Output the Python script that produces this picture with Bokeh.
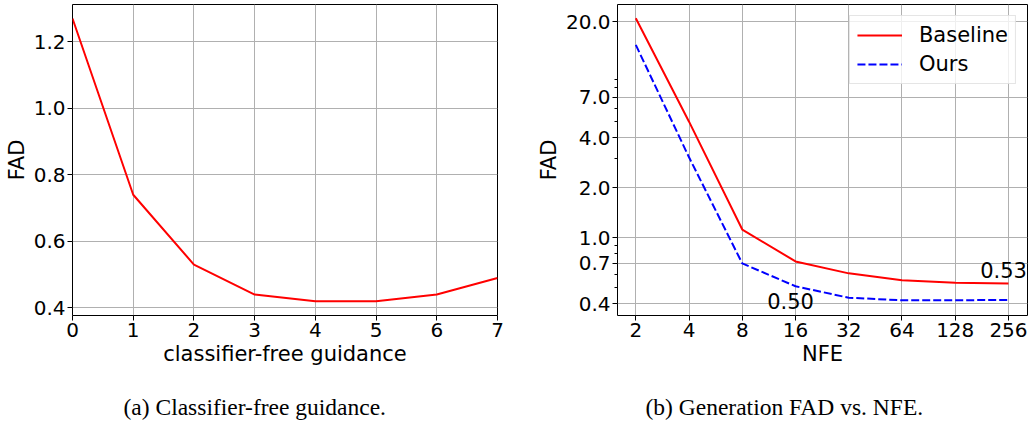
from bokeh.plotting import figure
from bokeh.layouts import row
from bokeh.models import (FixedTicker, PrintfTickFormatter, Range1d, Label, Title)
from bokeh.embed import file_html
from bokeh.resources import INLINE

# ---- data: (a) classifier-free guidance ----
cfg_scale = [0, 1, 2, 3, 4, 5, 6, 7]
cfg_fad = [1.27, 0.74, 0.53, 0.44, 0.42, 0.42, 0.44, 0.49]
cfg_yticks = [0.4, 0.6, 0.8, 1.0, 1.2]

# ---- data: (b) FAD vs NFE ----
nfe = [2, 4, 8, 16, 32, 64, 128, 256]
fad_baseline = [21.0, 5.0, 1.12, 0.72, 0.61, 0.555, 0.535, 0.53]
fad_ours = [14.5, 3.05, 0.70, 0.51, 0.435, 0.42, 0.42, 0.422]
nfe_yticks = [0.4, 0.7, 1.0, 2.0, 4.0, 7.0, 20.0]
nfe_yminor = [0.5, 0.6, 0.8, 0.9, 3.0, 5.0, 6.0, 8.0, 9.0]
ann_text = ["0.50", "0.53"]
ann_x = [15.0, 240.0]
ann_y = [0.415, 0.64]

captions = ["(a) Classifier-free guidance.", "(b) Generation FAD vs. NFE."]

SANS = "DejaVu Sans"
SERIF = "Liberation Serif"
TICK_FS = "20px"
LAB_FS = "21px"
CAP_FS = "23.5px"
GRID = "#b0b0b0"


def style(p):
    p.outline_line_color = "black"
    p.outline_line_width = 1
    p.background_fill_color = "white"
    p.border_fill_color = "white"
    for ax in (p.xaxis[0], p.yaxis[0]):
        ax.axis_line_color = None
        ax.major_tick_in = 0
        ax.major_tick_out = 5
        ax.major_tick_line_color = "black"
        ax.major_tick_line_width = 1
        ax.minor_tick_in = 0
        ax.minor_tick_out = 3
        ax.minor_tick_line_color = "black"
        ax.major_label_text_font = SANS
        ax.major_label_text_font_size = TICK_FS
        ax.major_label_text_color = "black"
        ax.axis_label_text_font = SANS
        ax.axis_label_text_font_size = LAB_FS
        ax.axis_label_text_font_style = "normal"
        ax.axis_label_text_color = "black"
        ax.major_label_standoff = 2
        ax.axis_label_standoff = 2
    p.xgrid.grid_line_color = GRID
    p.ygrid.grid_line_color = GRID
    p.xgrid.grid_line_width = 1
    p.ygrid.grid_line_width = 1


def caption(p, text, xoff):
    # spacer panel between the x axis and the caption
    p.add_layout(Title(text=" ", text_font_size="1px", standoff=16), "below")
    p.add_layout(Title(text=text, align="left", offset=xoff, standoff=9,
                       text_font=SERIF, text_font_size=CAP_FS, text_font_style="normal",
                       text_color="black"), "below")


# ---- left figure ----
p1 = figure(width=520, height=424, output_backend="svg", toolbar_location=None,
            x_range=Range1d(0, 7), y_range=Range1d(0.377, 1.312),
            min_border_left=72, min_border_right=23, min_border_top=4, min_border_bottom=109)
style(p1)
p1.line(cfg_scale, cfg_fad, line_color="red", line_width=2)
p1.xaxis.ticker = FixedTicker(ticks=cfg_scale)
p1.yaxis.ticker = FixedTicker(ticks=cfg_yticks)
p1.xaxis.formatter = PrintfTickFormatter(format="%d")
p1.yaxis.formatter = PrintfTickFormatter(format="%.1f")
p1.xaxis.minor_tick_line_color = None
p1.yaxis.minor_tick_line_color = None
p1.xaxis.axis_label = "classifier-free guidance"
p1.yaxis.axis_label = "FAD"
caption(p1, captions[0], 51)

# ---- right figure ----
p2 = figure(width=514, height=424, output_backend="svg", toolbar_location=None,
            x_axis_type="log", y_axis_type="log",
            x_range=Range1d(1.576, 328), y_range=Range1d(0.340, 25.4),
            min_border_left=97, min_border_right=7, min_border_top=4, min_border_bottom=109)
style(p2)
p2.line(nfe, fad_baseline, line_color="red", line_width=2, legend_label="Baseline")
p2.line(nfe, fad_ours, line_color="blue", line_width=2, line_dash="8 3", legend_label="Ours")
p2.xaxis.ticker = FixedTicker(ticks=nfe)
p2.yaxis.ticker = FixedTicker(ticks=nfe_yticks, minor_ticks=nfe_yminor)
p2.xaxis.formatter = PrintfTickFormatter(format="%d")
p2.yaxis.formatter = PrintfTickFormatter(format="%.1f")
p2.xaxis.minor_tick_line_color = None
p2.xaxis.axis_label = "NFE"
p2.yaxis.axis_label = "FAD"
for t, x, y in zip(ann_text, ann_x, ann_y):
    p2.add_layout(Label(x=x, y=y, text=t, text_align="center", text_baseline="middle",
                        text_font=SANS, text_font_size=LAB_FS, text_color="black"))
lg = p2.legend[0]
lg.location = "top_right"
lg.margin = 11
lg.padding = 7
lg.spacing = 5
lg.glyph_width = 45
lg.glyph_height = 20
lg.label_height = 20
lg.label_standoff = 17
lg.label_text_font = SANS
lg.label_text_font_size = LAB_FS
lg.label_text_color = "black"
lg.border_line_color = "#cccccc"
lg.border_line_width = 1
lg.background_fill_alpha = 0.8
caption(p2, captions[1], 28)

layout = row(p1, p2)
open("out.html", "w").write(file_html(layout, INLINE))
